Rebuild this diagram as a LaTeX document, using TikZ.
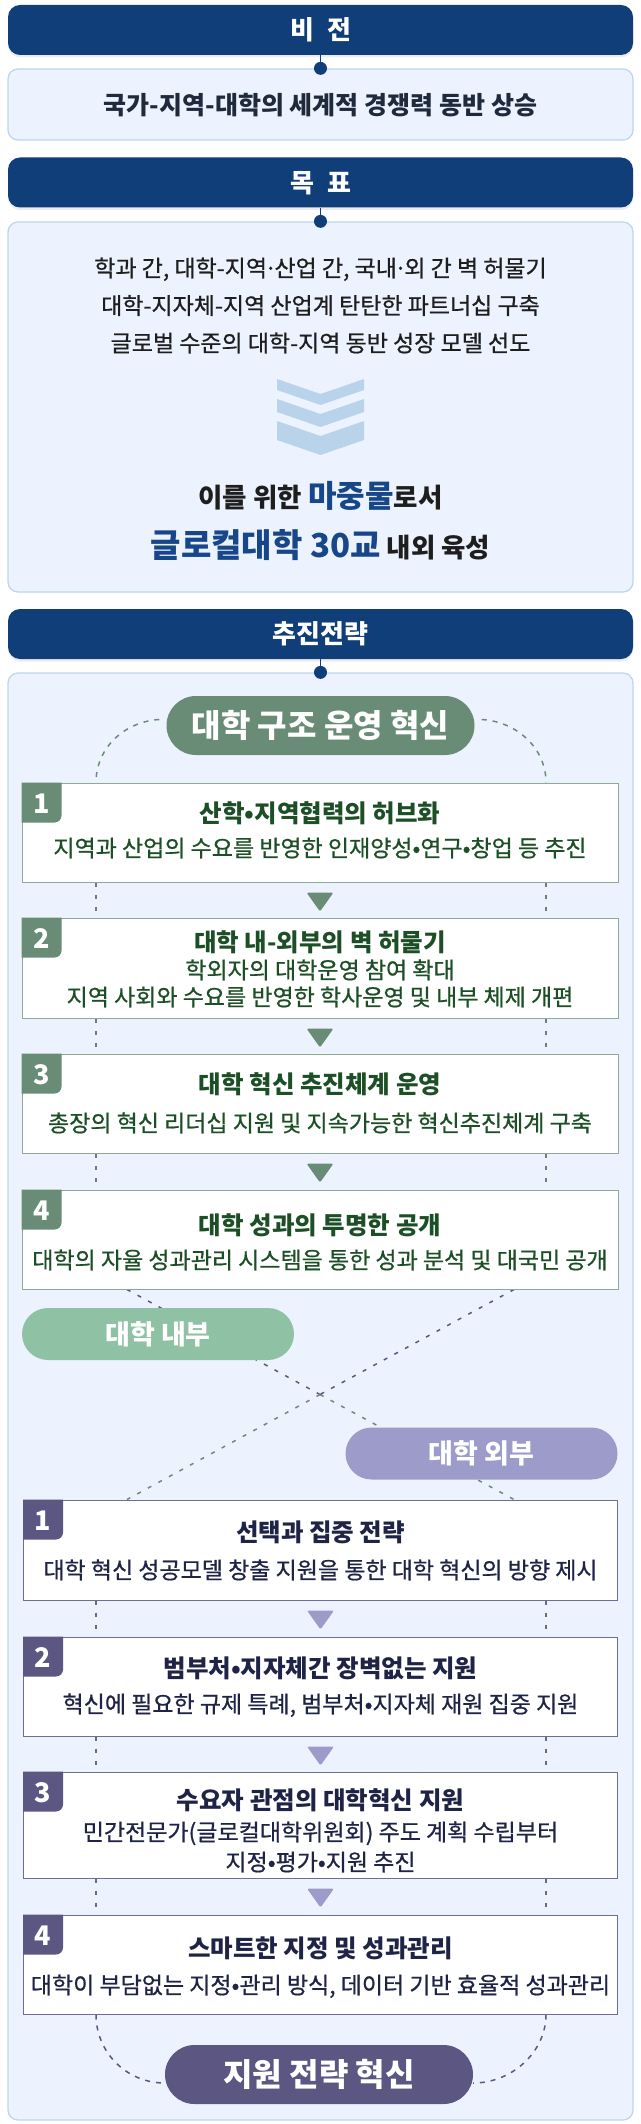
\documentclass[tikz,border=0pt]{standalone}
\usepackage{fontspec}
\usepackage{xcolor}
\usepackage{tikz}
\usetikzlibrary{calc,shadows}
\setmainfont{Noto Sans CJK KR}
\newfontfamily\medfont{Noto Sans CJK KR}[FakeBold=0.7]

\definecolor{navy}{HTML}{103E79}
\definecolor{lightfill}{HTML}{EDF3FE}
\definecolor{lightline}{HTML}{BED5EC}
\definecolor{chevblue}{HTML}{B9D3EA}
\definecolor{hblue}{HTML}{17478A}
\definecolor{textdark}{HTML}{1E1E1E}
\definecolor{vistxt}{HTML}{1F2A3C}
\definecolor{gmid}{HTML}{688C75}
\definecolor{gpale}{HTML}{8FC2A5}
\definecolor{gdark}{HTML}{1D4F26}
\definecolor{gborder}{HTML}{8DAA95}
\definecolor{gdashc}{HTML}{6C7F72}
\definecolor{pmid}{HTML}{5B5682}
\definecolor{ppale}{HTML}{9D9BC9}
\definecolor{pdark}{HTML}{1F2345}
\definecolor{pborder}{HTML}{6F6C96}
\definecolor{pdashc}{HTML}{6A6985}

\pgfdeclarelayer{back}
\pgfdeclarelayer{lines}
\pgfsetlayers{back,lines,main}

\tikzset{
	headbar/.style={fill=navy, rounded corners=12pt, minimum width=625pt, minimum height=50pt, inner sep=0pt,
		text=white, font=\bfseries\fontsize{26}{26}\selectfont, text height=19.5pt, text depth=0pt,
		drop shadow={shadow xshift=0pt, shadow yshift=-2.5pt, opacity=0.15}},
	lightbox/.style={fill=lightfill, draw=lightline, line width=1.3pt, rounded corners=10pt, minimum width=625pt, inner sep=0pt},
	jdot/.style={circle, fill=navy, inner sep=0pt, minimum size=13pt},
	plaintext/.style={inner sep=0pt, text depth=0pt},
	vistext/.style={plaintext, text=vistxt, font=\bfseries\fontsize{25}{26}\selectfont, text height=18.75pt},
	goaltext/.style={plaintext, text=textdark, font=\medfont\fontsize{23}{24}\selectfont, text height=17.25pt},
	slogan/.style={plaintext, text=textdark, font=\bfseries\fontsize{26.5}{27}\selectfont, text height=20.5pt},
	chev/.style={fill=chevblue},
	bigpill/.style={minimum width=308pt, minimum height=59pt, rounded corners=29.5pt, inner sep=0pt, text=white,
		font=\bfseries\fontsize{32}{32}\selectfont, text height=24pt, text depth=0pt},
	smallpill/.style={minimum width=272pt, minimum height=52pt, rounded corners=26pt, inner sep=0pt, text=white,
		font=\bfseries\fontsize{27}{27}\selectfont, text height=20.25pt, text depth=0pt},
	gbox/.style={draw=gborder, fill=white, line width=1pt, minimum width=596pt, inner sep=0pt},
	pbox/.style={draw=pborder, fill=white, line width=1pt, minimum width=594pt, inner sep=0pt},
	gtitle/.style={plaintext, text=gdark, font=\bfseries\fontsize{24.5}{25}\selectfont, text height=18.4pt},
	gsub/.style={plaintext, text=gdark, font=\medfont\fontsize{23}{24}\selectfont, text height=17.25pt},
	ptitle/.style={plaintext, text=pdark, font=\bfseries\fontsize{24.5}{25}\selectfont, text height=18.4pt},
	psub/.style={plaintext, text=pdark, font=\medfont\fontsize{23}{24}\selectfont, text height=17.25pt},
	badgenum/.style={plaintext, text=white, font=\bfseries\fontsize{27}{27}\selectfont, text height=19.7pt},
	gdash/.style={draw=gdashc, line width=1.3pt, dash pattern=on 4.5pt off 7.5pt},
	pdash/.style={draw=pdashc, line width=1.3pt, dash pattern=on 4.5pt off 7.5pt},
	garc/.style={draw=gmid, line width=1.5pt, dash pattern=on 5pt off 6pt},
	parc/.style={draw=pmid, line width=1.5pt, dash pattern=on 5pt off 6pt},
	xgreen/.style={draw=gmid, line width=1.5pt, dash pattern=on 4pt off 8pt},
	xpurple/.style={draw=pmid, line width=1.5pt, dash pattern=on 4pt off 8pt}
}

% narrow middle dot
\newcommand{\mdot}{\kern-0.12em·\kern-0.12em}
% number tab in the top left corner of a box
\newcommand{\numbadge}[3]{%
	\fill[#3] (#1.north west) -- ++(40,0) -- ++(0,33) to[out=-90,in=0] ++(-7,7) -- ++(-33,0) -- cycle;
	\node[badgenum] (#1num) at ($(#1.north west)+(20,21)$) {#2};
}
% small triangle under a box
\newcommand{\downtri}[2]{%
	\fill[#2, rounded corners=1.5pt] ($(#1.south)+(-13.5,10)$) -- ++(27,0) -- ++(-13.5,19) -- cycle;
}

\begin{document}
\begin{tikzpicture}[x=1pt,y=-1pt]
	\useasboundingbox (0,0) rectangle (640,2124);

	\begin{pgfonlayer}{back}
	\node[headbar] (visbar) at (320.5,30) {비\enspace 전};
	\node[lightbox, minimum height=71pt] (visbox) at (320.5,104.5) {};
	\node[headbar] (goalbar) at (320.5,182.5) {목\enspace 표};
	\node[lightbox, minimum height=370pt] (goalbox) at (320.5,407) {};
	\node[headbar] (stratbar) at (320.5,634) {추진전략};
	\node[lightbox, minimum height=1447pt] (stratbox) at (320.5,1396.5) {};
	\end{pgfonlayer}

	\node[jdot] (visdot) at (visbox.north) {};
	\node[jdot] (goaldot) at (goalbox.north) {};
	\node[jdot] (stratdot) at (stratbox.north) {};

	% vision
	\node[vistext] (vision) at (320.5,105) {국가-지역-대학의 세계적 경쟁력 동반 상승};

	% goals
	\node[goaltext] (goal1) at (320.5,268) {학과 간, 대학-지역\mdot 산업 간, 국내\mdot 외 간 벽 허물기};
	\node[goaltext] (goal2) at (320.5,305.5) {대학-지자체-지역 산업계 탄탄한 파트너십 구축};
	\node[goaltext] (goal3) at (320.5,343) {글로벌 수준의 대학-지역 동반 성장 모델 선도};

	\fill[chev] (277,379) -- (320.5,394) -- (364,379) -- (364,390) -- (320.5,405) -- (277,390) -- cycle;
	\fill[chev] (277,399) -- (320.5,414) -- (364,399) -- (364,412) -- (320.5,427) -- (277,412) -- cycle;
	\fill[chev] (277,421) -- (320.5,436) -- (364,421) -- (364,440) -- (320.5,455) -- (277,440) -- cycle;

	\node[slogan] (slogan1) at (320.5,497) {이를 위한 {\color{hblue}\fontsize{31}{32}\selectfont 마중물}로서};
	\node[slogan] (slogan2) at (320.5,547) {{\color{hblue}\fontsize{33}{34}\selectfont 글로컬대학 30교} 내외 육성};

	% university structure
	\node[bigpill, fill=gmid] (innopill) at (320.5,725.5) {대학 구조 운영 혁신};

	\node[gbox, minimum height=99pt] (g1) at (320,832.5) {};
	\node[gtitle] (g1t) at (320,813) {산학•지역협력의 허브화};
	\node[gsub] (g1s) at (320,848) {지역과 산업의 수요를 반영한 인재양성•연구•창업 등 추진};
	\numbadge{g1}{1}{gmid}
	\downtri{g1}{gmid}

	\node[gbox, minimum height=100pt] (g2) at (320,968) {};
	\node[gtitle] (g2t) at (320,942) {대학 내-외부의 벽 허물기};
	\node[gsub] (g2s) at (320,970) {학외자의 대학운영 참여 확대};
	\node[gsub] (g2u) at (320,997) {지역 사회와 수요를 반영한 학사운영 및 내부 체제 개편};
	\numbadge{g2}{2}{gmid}
	\downtri{g2}{gmid}

	\node[gbox, minimum height=99pt] (g3) at (320,1103.5) {};
	\node[gtitle] (g3t) at (320,1084) {대학 혁신 추진체계 운영};
	\node[gsub] (g3s) at (320,1123) {총장의 혁신 리더십 지원 및 지속가능한 혁신추진체계 구축};
	\numbadge{g3}{3}{gmid}
	\downtri{g3}{gmid}

	\node[gbox, minimum height=99pt] (g4) at (320,1239.5) {};
	\node[gtitle] (g4t) at (320,1225) {대학 성과의 투명한 공개};
	\node[gsub] (g4s) at (320,1260) {대학의 자율 성과관리 시스템을 통한 성과 분석 및 대국민 공개};
	\numbadge{g4}{4}{gmid}

	% support strategy
	\node[pbox, minimum height=100pt] (p1) at (320.5,1550) {};
	\node[ptitle] (p1t) at (320.5,1532) {선택과 집중 전략};
	\node[psub] (p1s) at (320.5,1570) {대학 혁신 성공모델 창출 지원을 통한 대학 혁신의 방향 제시};
	\numbadge{p1}{1}{pmid}
	\downtri{p1}{ppale}

	\node[pbox, minimum height=99pt] (p2) at (320.5,1686.5) {};
	\node[ptitle] (p2t) at (320.5,1668) {범부처•지자체간 장벽없는 지원};
	\node[psub] (p2s) at (320.5,1704) {혁신에 필요한 규제 특례, 범부처•지자체 재원 집중 지원};
	\numbadge{p2}{2}{pmid}
	\downtri{p2}{ppale}

	\node[pbox, minimum height=106pt] (p3) at (320.5,1825) {};
	\node[ptitle] (p3t) at (320.5,1800) {수요자 관점의 대학혁신 지원};
	\node[psub] (p3s) at (320.5,1832) {민간전문가(글로컬대학위원회) 주도 계획 수립부터};
	\node[psub] (p3u) at (320.5,1862) {지정•평가•지원 추진};
	\numbadge{p3}{3}{pmid}
	\downtri{p3}{ppale}

	\node[pbox, minimum height=99pt] (p4) at (320.5,1964.5) {};
	\node[ptitle] (p4t) at (320.5,1948) {스마트한 지정 및 성과관리};
	\node[psub] (p4s) at (320.5,1985) {대학이 부담없는 지정•관리 방식, 데이터 기반 효율적 성과관리};
	\numbadge{p4}{4}{pmid}

	\node[smallpill, fill=gpale] (inside) at (158,1334) {대학 내부};
	\node[smallpill, fill=ppale] (outside) at (481.5,1453.5) {대학 외부};
	\node[bigpill, fill=pmid] (supportpill) at (319,2074.5) {지원 전략 혁신};

	\begin{pgfonlayer}{lines}
	\draw[navy, line width=1pt] (visbar.south) -- (visdot);
	\draw[navy, line width=1pt] (goalbar.south) -- (goaldot);
	\draw[navy, line width=1pt] (stratbar.south) -- (stratdot);

	\coordinate (lx) at (96,0);
	\coordinate (rx) at (546,0);
	\coordinate (xl) at (127,0);
	\coordinate (xr) at (514,0);
	\coordinate (xc) at (320,1394.5);

	\draw[garc] ($(innopill.west)+(-7,-6)$) .. controls ($(g1.north -| lx)+(29,-61)$) and ($(g1.north -| lx)+(0,-35)$) .. (g1.north -| lx);
	\draw[garc] ($(innopill.east)+(7,-6)$) .. controls ($(g1.north -| rx)+(-30,-61)$) and ($(g1.north -| rx)+(0,-35)$) .. (g1.north -| rx);

	\draw[gdash] (g1.south -| lx) -- (g2.north -| lx);
	\draw[gdash] (g1.south -| rx) -- (g2.north -| rx);
	\draw[gdash] (g2.south -| lx) -- (g3.north -| lx);
	\draw[gdash] (g2.south -| rx) -- (g3.north -| rx);
	\draw[gdash] (g3.south -| lx) -- (g4.north -| lx);
	\draw[gdash] (g3.south -| rx) -- (g4.north -| rx);

	\draw[xpurple] (g4.south -| xl) -- (xc);
	\draw[xgreen] (xc) -- (p1.north -| xr);
	\draw[xpurple] (g4.south -| xr) -- (xc);
	\draw[xgreen] (xc) -- (p1.north -| xl);

	\draw[pdash] (p1.south -| lx) -- (p2.north -| lx);
	\draw[pdash] (p1.south -| rx) -- (p2.north -| rx);
	\draw[pdash] (p2.south -| lx) -- (p3.north -| lx);
	\draw[pdash] (p2.south -| rx) -- (p3.north -| rx);
	\draw[pdash] (p3.south -| lx) -- (p4.north -| lx);
	\draw[pdash] (p3.south -| rx) -- (p4.north -| rx);

	\draw[parc] (p4.south -| lx) .. controls ($(p4.south -| lx)+(0,38)$) and ($(supportpill.west)+(-38,8.5)$) .. ($(supportpill.west)+(0,8.5)$);
	\draw[parc] (p4.south -| rx) .. controls ($(p4.south -| rx)+(0,38)$) and ($(supportpill.east)+(38,8.5)$) .. ($(supportpill.east)+(0,8.5)$);
	\end{pgfonlayer}

\end{tikzpicture}
\end{document}
